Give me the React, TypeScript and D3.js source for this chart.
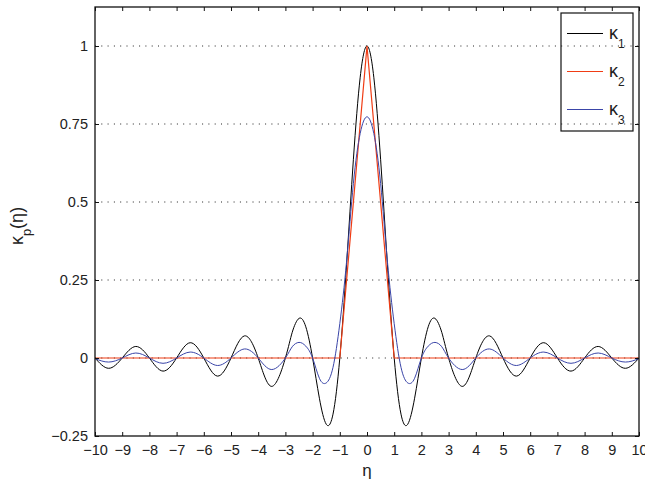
import React, { useEffect, useRef } from 'react';
import * as d3 from 'd3';

// sample positions (eta)
const etaGrid = [
  -10, -9.5, -9, -8.5, -8, -7.5, -7, -6.5, -6, -5.5, -5, -4.5, -4, -3.5,
  -3, -2.75, -2.5, -2.25, -2, -1.75, -1.5, -1.25, -1, -0.75, -0.5, -0.25,
  0, 0.25, 0.5, 0.75, 1, 1.25, 1.5, 1.75, 2, 2.25, 2.5, 2.75, 3,
  3.5, 4, 4.5, 5, 5.5, 6, 6.5, 7, 7.5, 8, 8.5, 9, 9.5, 10,
];

const kappa1 = [
  0, -0.033, 0, 0.037, 0, -0.042, 0, 0.049, 0, -0.058, 0, 0.071, 0, -0.091,
  0, 0.082, 0.127, 0.1, 0, -0.129, -0.212, -0.18, 0, 0.3, 0.637, 0.9,
  1, 0.9, 0.637, 0.3, 0, -0.18, -0.212, -0.129, 0, 0.1, 0.127, 0.082, 0,
  -0.091, 0, 0.071, 0, -0.058, 0, 0.049, 0, -0.042, 0, 0.037, 0, -0.033, 0,
];

const kappa3 = [
  -0.002, -0.013, 0, 0.016, 0, -0.017, 0, 0.019, 0, -0.024, 0, 0.029, 0, -0.037,
  0, 0.036, 0.05, 0.038, 0, -0.065, -0.08, -0.03, 0.11, 0.31, 0.56, 0.72,
  0.773, 0.72, 0.56, 0.31, 0.11, -0.03, -0.08, -0.065, 0, 0.038, 0.05, 0.036, 0,
  -0.037, 0, 0.029, 0, -0.024, 0, 0.019, 0, -0.017, 0, 0.016, 0, -0.013, -0.002,
];

const kappa2Eta = [-10, -1, 0, 1, 10];
const kappa2 = [0, 0, 1, 0, 0];

const xTicks = d3.range(-10, 11);
const yTicks = [-0.25, 0, 0.25, 0.5, 0.75, 1];
const legendNames = ['1', '2', '3'];
const colors = ['#000000', '#f03c14', '#3a45a8'];

const W = 645;
const H = 482;
const FONT = '"Liberation Sans", Arial, Helvetica, sans-serif';

const App: React.FC = () => {
  const svgRef = useRef<SVGSVGElement>(null);

  useEffect(() => {
    if (!svgRef.current) return;
    const svg = d3.select(svgRef.current);
    svg.selectAll('*').remove();

    const margin = { top: 7, right: 6, bottom: 46, left: 95 };
    const x = d3.scaleLinear().domain([-10, 10]).range([margin.left, W - margin.right]);
    const y = d3.scaleLinear().domain([-0.25, 1.125]).range([H - margin.bottom, margin.top]);
    const [x0, x1] = x.range();
    const [y0, y1] = y.range();
    const fmt = (v: number) => (v < 0 ? '\u2212' + String(Math.abs(v)) : String(v));

    svg.append('defs').append('clipPath').attr('id', 'plotClip')
      .append('rect').attr('x', x0).attr('y', y1).attr('width', x1 - x0).attr('height', y0 - y1);

    // Grid
    svg.append('g')
      .selectAll('line')
      .data(yTicks.filter(v => v > -0.25))
      .join('line')
      .attr('x1', x0).attr('x2', x1)
      .attr('y1', d => y(d)).attr('y2', d => y(d))
      .attr('stroke', '#222')
      .attr('stroke-width', 1)
      .attr('stroke-dasharray', '1,5.3');

    // Lines
    const plot = svg.append('g').attr('clip-path', 'url(#plotClip)');
    const smooth = d3.line<number>()
      .x((_, i) => x(etaGrid[i]))
      .y(d => y(d))
      .curve(d3.curveNatural);
    const straight = d3.line<number>()
      .x((_, i) => x(kappa2Eta[i]))
      .y(d => y(d));

    plot.append('path').datum(kappa1)
      .attr('fill', 'none').attr('stroke', colors[0]).attr('stroke-width', 1)
      .attr('d', smooth);
    plot.append('path').datum(kappa2)
      .attr('fill', 'none').attr('stroke', colors[1]).attr('stroke-width', 1.2)
      .attr('d', straight);
    plot.append('path').datum(kappa3)
      .attr('fill', 'none').attr('stroke', colors[2]).attr('stroke-width', 1)
      .attr('d', smooth);

    // Axes box with inner ticks
    const axisColor = '#111';
    svg.append('g').attr('transform', `translate(0,${y0})`)
      .call(d3.axisBottom(x).tickValues(xTicks).tickSizeInner(-4).tickSizeOuter(0).tickPadding(9).tickFormat(d => fmt(+d)))
      .call(g => g.select('.domain').remove());
    svg.append('g').attr('transform', `translate(0,${y1})`)
      .call(d3.axisTop(x).tickValues(xTicks).tickSizeInner(-4).tickSizeOuter(0).tickFormat(() => ''))
      .call(g => g.select('.domain').remove());
    svg.append('g').attr('transform', `translate(${x0},0)`)
      .call(d3.axisLeft(y).tickValues(yTicks).tickSizeInner(-4).tickSizeOuter(0).tickPadding(7).tickFormat(d => fmt(+d)))
      .call(g => g.select('.domain').remove());
    svg.append('g').attr('transform', `translate(${x1},0)`)
      .call(d3.axisRight(y).tickValues(yTicks).tickSizeInner(-4).tickSizeOuter(0).tickFormat(() => ''))
      .call(g => g.select('.domain').remove());

    svg.selectAll('.tick line').attr('stroke', axisColor).attr('stroke-width', 1);
    svg.selectAll('.tick text')
      .attr('fill', '#222')
      .attr('font-family', FONT)
      .attr('font-size', 14.5);

    svg.append('rect')
      .attr('x', x0).attr('y', y1).attr('width', x1 - x0).attr('height', y0 - y1)
      .attr('fill', 'none').attr('stroke', axisColor).attr('stroke-width', 1.3);

    // Axis labels
    svg.append('text')
      .attr('x', x(0)).attr('y', 476)
      .attr('text-anchor', 'middle')
      .attr('font-family', FONT).attr('font-size', 17).attr('fill', '#222')
      .text('\u03b7');

    const yl = svg.append('text')
      .attr('transform', 'translate(23,226) rotate(-90)')
      .attr('text-anchor', 'middle')
      .attr('font-family', FONT).attr('font-size', 18).attr('fill', '#222');
    yl.append('tspan').text('\u03ba');
    yl.append('tspan').attr('font-size', 13).attr('dy', 8).text('p');
    yl.append('tspan').attr('dy', -8).text('(\u03b7)');

    // Legend
    const legend = svg.append('g');
    legend.append('rect')
      .attr('x', 561).attr('y', 13).attr('width', 72).attr('height', 118)
      .attr('fill', 'none').attr('stroke', axisColor).attr('stroke-width', 1.2);
    legendNames.forEach((name, i) => {
      const ly = 33.5 + i * 38;
      legend.append('line')
        .attr('x1', 567).attr('x2', 603).attr('y1', ly).attr('y2', ly)
        .attr('stroke', colors[i]).attr('stroke-width', 1.2);
      const t = legend.append('text')
        .attr('x', 609).attr('y', ly + 5)
        .attr('font-family', FONT).attr('font-size', 18).attr('fill', '#222');
      t.append('tspan').text('\u03ba');
      t.append('tspan').attr('font-size', 12).attr('dy', 9).text(name);
    });
  }, []);

  return (
    <div style={{ position: 'absolute', left: 0, top: 0 }}>
      <svg ref={svgRef} width={W} height={H} style={{ display: 'block', background: '#fff' }} />
    </div>
  );
};

export default App;
